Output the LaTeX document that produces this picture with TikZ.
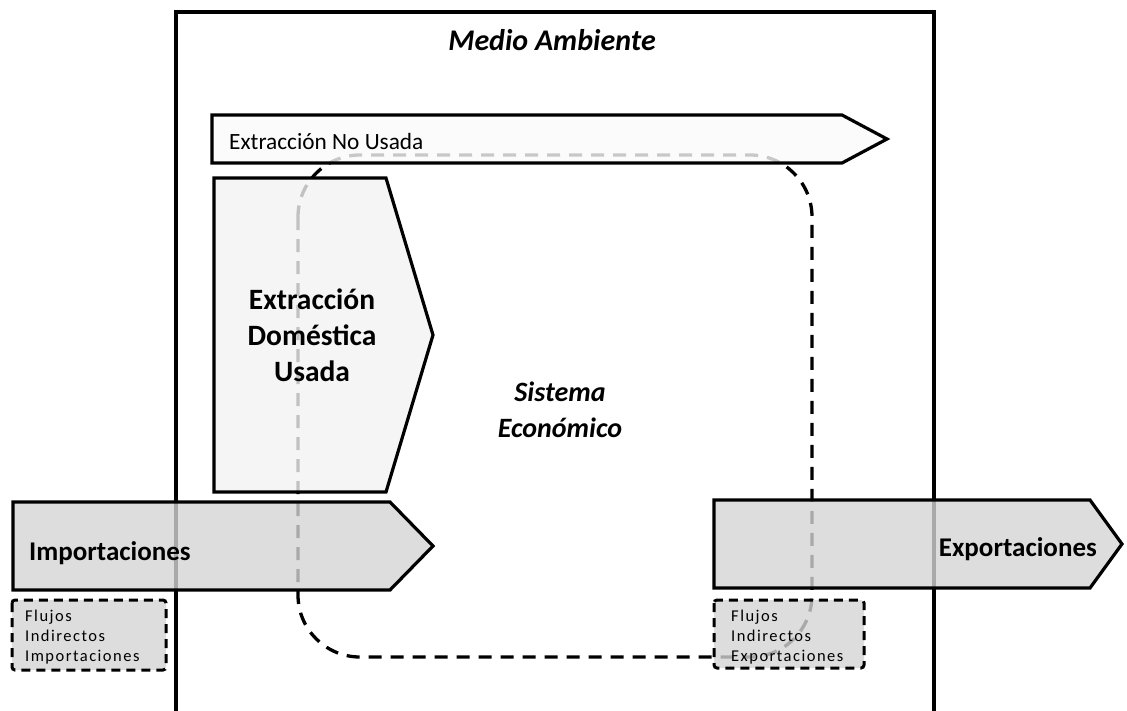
\documentclass[tikz,border=0pt]{standalone}
\usepackage{fontspec}
\setmainfont{Carlito}
\begin{document}
\begin{tikzpicture}[x=1pt,y=-1pt,
  frame/.style={draw=black,line width=3.2pt},
  arrowshape/.style={draw=black,line width=3.2pt,line join=miter},
  flow/.style={arrowshape,fill=black!17,fill opacity=0.8},
  lightflow/.style={arrowshape,fill=black!5,fill opacity=0.8},
  paleflow/.style={arrowshape,fill=black!2,fill opacity=0.8},
  loop/.style={draw=black,line width=3.3pt,dash pattern=on 13pt off 9pt,rounded corners=62pt},
  flujos/.style={draw=black,line width=3pt,dash pattern=on 9pt off 6pt,fill=black!17,fill opacity=0.8,rounded corners=3pt},
  smalltxt/.style={font=\fontsize{16.5}{20}\selectfont\addfontfeature{LetterSpace=9},align=left,anchor=north west,inner sep=0pt},
  bigtxt/.style={font=\fontsize{27}{30}\selectfont\bfseries}]
\useasboundingbox (0,0) rectangle (1127,710);
% environment
\draw[frame] (176,12) rectangle (934,714);
\node[font=\fontsize{30}{34}\selectfont\bfseries\itshape] (ma) at (552,40) {Medio Ambiente};
% economic system loop
\draw[loop] (298,155) rectangle (812,657);
% Extraccion No Usada
\draw[paleflow] (212,115) -- (842,115) -- (887,139) -- (842,163) -- (212,163) -- cycle;
\node[font=\fontsize{23.3}{26}\selectfont,anchor=west,inner sep=0pt] (enu) at (229,141) {Extracción No Usada};
% Extraccion Domestica Usada
\draw[lightflow] (214,178) -- (386,178) -- (433,335) -- (386,492) -- (214,492) -- cycle;
\node[font=\fontsize{29.5}{36}\selectfont\bfseries,align=center] (edu) at (312,335) {Extracción\\Doméstica\\Usada};
% Sistema Economico
\node[font=\fontsize{28}{36}\selectfont\bfseries\itshape,align=center] (se) at (560,410) {Sistema\\Económico};
% Importaciones
\draw[flow] (13,502) -- (390,502) -- (433,546) -- (390,590) -- (13,590) -- cycle;
\node[bigtxt,anchor=west,inner sep=0pt] (imp) at (29,553) {Importaciones};
% Exportaciones
\draw[flow] (714,500) -- (1090,500) -- (1122,544) -- (1090,588) -- (714,588) -- cycle;
\node[bigtxt,anchor=east,inner sep=0pt] (exp) at (1097,549) {Exportaciones};
% Flujos indirectos
\draw[flujos] (12,600) rectangle (166,670);
\node[smalltxt] (fii) at (25,610) {Flujos\\Indirectos\\Importaciones};
\draw[flujos] (714,600) rectangle (864,668);
\node[smalltxt] (fie) at (731,610) {Flujos\\Indirectos\\Exportaciones};
\end{tikzpicture}
\end{document}
